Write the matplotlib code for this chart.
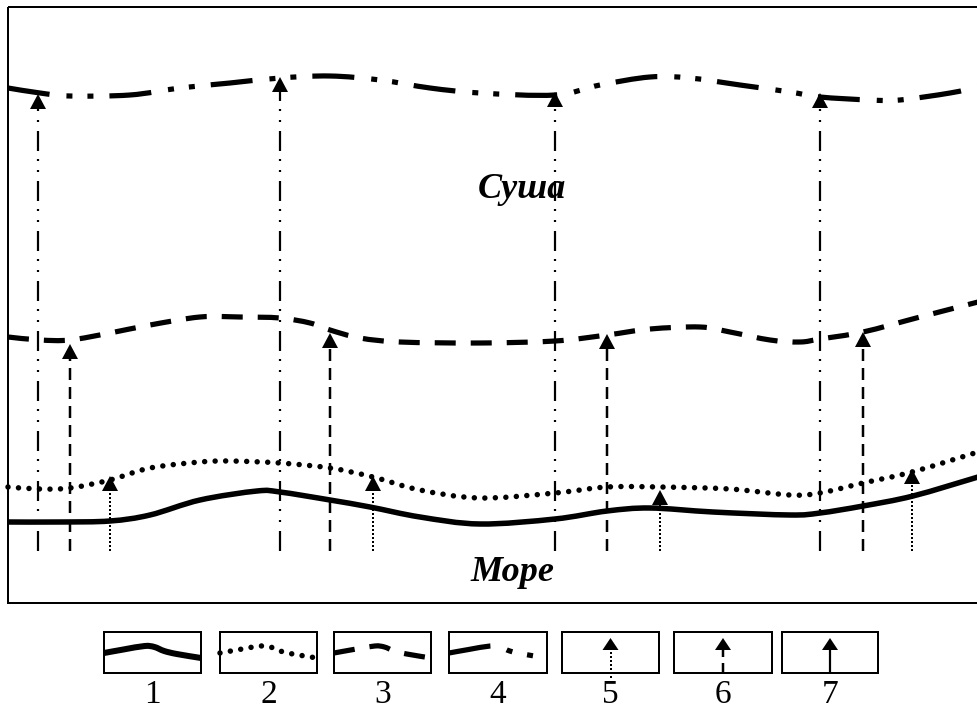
import numpy as np
import matplotlib
matplotlib.use("Agg")
import matplotlib.pyplot as plt
from matplotlib.path import Path
from matplotlib.patches import PathPatch, Rectangle

plt.rcParams['lines.scale_dashes'] = False

# ---------------- data (pixel-like units) ----------------
# 1 - coast line (solid)
coast_x = [8, 60, 110, 150, 200, 257, 280, 330, 370, 420, 480, 555, 607, 650, 713, 790, 820, 863, 913, 978]
coast_y = [522, 522, 521, 515, 500, 491, 492, 500, 507, 517, 524, 519, 511, 508, 512, 515, 513, 506, 496, 477]

# 2 - dotted line
line2_x = [8, 40, 70, 110, 150, 200, 230, 280, 330, 373, 420, 480, 555, 607, 660, 730, 790, 820, 863, 912, 978]
line2_y = [487, 489, 488, 480, 468, 462, 461, 463, 468, 477, 490, 498, 493, 487, 487, 489, 495, 493, 483, 472, 452]

# 3 - dashed line
line3_x = [8, 40, 70, 110, 150, 200, 240, 280, 310, 330, 360, 400, 480, 555, 607, 650, 700, 730, 770, 800, 820, 863, 920, 978]
line3_y = [337, 340, 340, 333, 325, 317, 317, 318, 323, 330, 338, 342, 343, 341, 335, 329, 327, 332, 340, 342, 339, 332, 317, 302]

# 4 - dash-dot-dot line
line4_x = [8, 40, 70, 130, 180, 230, 280, 330, 380, 430, 480, 555, 600, 650, 690, 740, 790, 820, 870, 900, 950, 978]
line4_y = [88, 93, 96, 95, 88, 83, 78, 76, 80, 88, 93, 95, 85, 77, 78, 85, 92, 97, 100, 100, 93, 87]

# arrows (x position, tip y) ; all start at the same base level
arrow_base = 551
arrow2_x = [110, 373, 660, 912]
arrow2_tip = [476, 476, 490, 469]
arrow3_x = [70, 330, 607, 863]
arrow3_tip = [344, 333, 334, 332]
arrow4_x = [38, 280, 555, 820]
arrow4_tip = [94, 77, 92, 93]

# legend sample curve (fraction of box width, y)
legend_fx = [0.0, 0.2, 0.42, 0.52, 0.62, 0.75, 1.0]
legend_y = [653, 649.5, 646, 647, 651, 654, 658]
legend_labels = ["1", "2", "3", "4", "5", "6", "7"]

label_land = "Суша"
label_sea = "Море"

# ---------------- helpers ----------------
PX = 0.72  # px -> pt at dpi 100


def smooth_path(xs, ys):
    pts = np.column_stack([xs, ys]).astype(float)
    verts = [pts[0]]
    codes = [Path.MOVETO]
    n = len(pts)
    for i in range(n - 1):
        p0 = pts[i - 1] if i > 0 else pts[i]
        p1 = pts[i]
        p2 = pts[i + 1]
        p3 = pts[i + 2] if i + 2 < n else pts[i + 1]
        c1 = p1 + (p2 - p0) / 6.0
        c2 = p2 - (p3 - p1) / 6.0
        verts += [c1, c2, p2]
        codes += [Path.CURVE4] * 3
    return Path(verts, codes)


STYLES = {
    1: dict(lw=5.5, ls='-', cap='butt'),
    2: dict(lw=5.5, ls=(0, (0.01, 10.5 * PX)), cap='round'),
    3: dict(lw=5.2, ls=(0, (21 * PX, 15 * PX)), cap='butt'),
    4: dict(lw=5.2, ls=(0, (42 * PX, 17 * PX, 6 * PX, 15 * PX, 6 * PX, 16 * PX)), cap='butt'),
}

VSTYLES = {
    2: dict(lw=2.0, ls=(0, (2 * PX, 2 * PX)), cap='butt'),
    3: dict(lw=2.5, ls=(0, (12 * PX, 7 * PX)), cap='butt'),
    4: dict(lw=2.2, ls=(0, (20 * PX, 9 * PX, 2 * PX, 9 * PX, 2 * PX, 8 * PX)), cap='butt'),
    7: dict(lw=2.2, ls='-', cap='butt'),
}


def draw_curve(ax, xs, ys, kind, lw_scale=1.0):
    st = STYLES[kind]
    patch = PathPatch(smooth_path(xs, ys), fill=False, edgecolor='black',
                      linewidth=st['lw'] * PX * lw_scale, linestyle=st['ls'],
                      capstyle=st['cap'], joinstyle='round')
    ax.add_patch(patch)


def draw_arrow(ax, x, tip, bottom, kind, head_w=16, head_h=15, vstyle=None):
    st = VSTYLES[kind] if vstyle is None else vstyle
    base = tip + head_h
    ax.plot([x, x], [bottom, base], color='black', lw=st['lw'] * PX,
            linestyle=st['ls'], solid_capstyle='butt', dash_capstyle=st['cap'])
    ax.fill([x - head_w / 2, x + head_w / 2, x], [base, base, tip],
            color='black', lw=0)


# ---------------- figure ----------------
fig = plt.figure(figsize=(9.78, 7.25), dpi=100)
ax = fig.add_axes([0, 0, 1, 1])
ax.set_xlim(0, 978)
ax.set_ylim(725, 0)
ax.axis('off')

# frame (right side runs off the picture)
ax.add_patch(Rectangle((8, 7), 1000, 596, fill=False, edgecolor='black', lw=2 * PX))

# curves
draw_curve(ax, coast_x, coast_y, 1)
draw_curve(ax, line2_x, line2_y, 2)
draw_curve(ax, line3_x, line3_y, 3)
draw_curve(ax, line4_x, line4_y, 4)

# arrows
for x, t in zip(arrow2_x, arrow2_tip):
    draw_arrow(ax, x, t, arrow_base, 2)
for x, t in zip(arrow3_x, arrow3_tip):
    draw_arrow(ax, x, t, arrow_base, 3)
for x, t in zip(arrow4_x, arrow4_tip):
    draw_arrow(ax, x, t, arrow_base, 4)

# labels
ax.text(522, 198, label_land, ha='center', va='baseline', fontsize=26,
        family='Liberation Serif', style='italic', weight='bold')
ax.text(512, 581, label_sea, ha='center', va='baseline', fontsize=26,
        family='Liberation Serif', style='italic', weight='bold')

# legend
box_left = [104, 220, 334, 449, 562, 674, 782]
box_w = [97, 97, 97, 98, 97, 98, 96]
box_top, box_bot = 632, 673
for i, (bl, bw, lab) in enumerate(zip(box_left, box_w, legend_labels)):
    ax.add_patch(Rectangle((bl, box_top), bw, box_bot - box_top, fill=False,
                           edgecolor='black', lw=2 * PX))
    cx = bl + bw / 2
    if i < 4:
        lx = [bl + f * bw for f in legend_fx]
        draw_curve(ax, lx, legend_y, i + 1, lw_scale=1.1 if i == 0 else 1.0)
    else:
        kind = {4: 2, 5: 3, 6: 7}[i]
        bottom = 678 if i == 4 else box_bot
        st = dict(VSTYLES[kind])
        if i == 5:
            st['ls'] = (0, (10 * PX, 6 * PX))
        draw_arrow(ax, cx, 638, bottom, kind, head_w=16, head_h=12, vstyle=st)
    ax.text(cx, 703, lab, ha='center', va='baseline', fontsize=24,
            family='Liberation Serif')

fig.savefig('out.png', dpi=100)
